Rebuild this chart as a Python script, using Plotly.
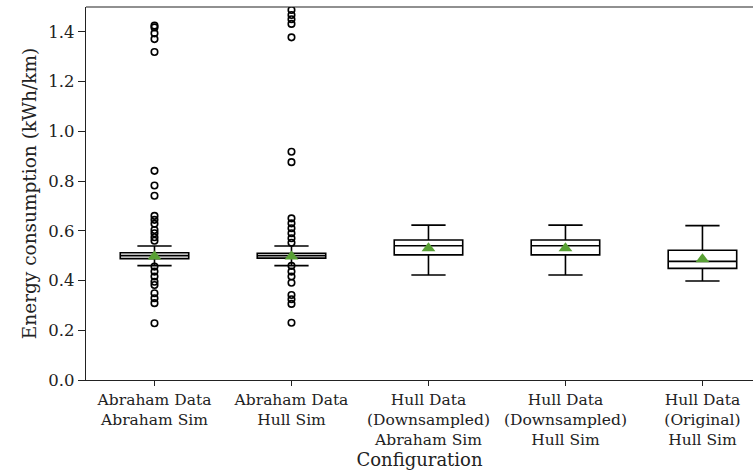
import plotly.graph_objects as go

categories = ["Abraham Data<br>Abraham Sim", "Abraham Data<br>Hull Sim",
              "Hull Data<br>(Downsampled)<br>Abraham Sim", "Hull Data<br>(Downsampled)<br>Hull Sim",
              "Hull Data<br>(Original)<br>Hull Sim"]
positions = [1, 2, 3, 4, 5]
q1 = [0.488, 0.490, 0.503, 0.503, 0.449]
median = [0.500, 0.500, 0.540, 0.540, 0.477]
q3 = [0.512, 0.510, 0.563, 0.563, 0.522]
lower_whisker = [0.460, 0.460, 0.422, 0.422, 0.398]
upper_whisker = [0.539, 0.539, 0.623, 0.623, 0.621]
means = [0.497, 0.497, 0.530, 0.530, 0.486]
outliers = [
    [1.425, 1.418, 1.394, 1.371, 1.319, 0.841, 0.782, 0.741, 0.660, 0.644, 0.628, 0.603, 0.590,
     0.574, 0.560, 0.456, 0.436, 0.416, 0.395, 0.382, 0.349, 0.329, 0.309, 0.228],
    [1.488, 1.468, 1.451, 1.432, 1.378, 0.918, 0.876, 0.650, 0.630, 0.610, 0.590, 0.570, 0.552,
     0.459, 0.436, 0.416, 0.391, 0.342, 0.325, 0.306, 0.230],
    [], [], [],
]
y_ticks = [0.0, 0.2, 0.4, 0.6, 0.8, 1.0, 1.2, 1.4]

SERIF = "DejaVu Serif"
fig = go.Figure()
fig.add_trace(go.Box(
    x=positions, q1=q1, median=median, q3=q3,
    lowerfence=lower_whisker, upperfence=upper_whisker,
    width=0.5, whiskerwidth=0.5, fillcolor="white",
    line=dict(color="black", width=1.6), boxpoints=False, showlegend=False,
    hoverinfo="skip"))

ox, oy = [], []
for p, vals in zip(positions, outliers):
    ox += [p] * len(vals)
    oy += vals
fig.add_trace(go.Scatter(x=ox, y=oy, mode="markers", showlegend=False,
                         marker=dict(symbol="circle-open", size=6.5, color="black",
                                     line=dict(width=1.6, color="black"))))
fig.add_trace(go.Scatter(x=positions, y=means, mode="markers", showlegend=False,
                         marker=dict(symbol="triangle-up", size=12, color="#58a034",
                                     line=dict(width=0))))

fig.update_layout(
    width=753, height=475,
    margin=dict(l=86, r=0, t=7, b=95),
    paper_bgcolor="white", plot_bgcolor="white",
    font=dict(family=SERIF, color="#222", size=15),
    xaxis=dict(range=[0.5, 5.369], tickvals=positions, ticktext=categories, automargin=False,
               showgrid=False, zeroline=False, showline=True, linecolor="#222", linewidth=1.2,
               ticks="outside", ticklen=5, tickcolor="#222",
               tickfont=dict(family=SERIF, size=15.5),
               title=dict(text="Configuration", font=dict(family=SERIF, size=18), standoff=3)),
    yaxis=dict(range=[0, 1.5], tickvals=y_ticks, ticktext=[f"{v:.1f}" for v in y_ticks],
               automargin=False,
               showgrid=False, zeroline=False, showline=True, linecolor="#222", linewidth=1.2,
               ticks="outside", ticklen=7, tickcolor="#222",
               tickfont=dict(family=SERIF, size=16.5),
               title=dict(text="Energy consumption (kWh/km)", font=dict(family=SERIF, size=18.5),
                          standoff=6)),
    shapes=[dict(type="line", xref="paper", yref="paper", x0=0, x1=1, y0=1, y1=1,
                 line=dict(color="#222", width=1.2))],
)
fig.write_html("out.html", config={"displayModeBar": False},
               post_script="document.body.style.margin='0';document.body.style.padding='0';")
